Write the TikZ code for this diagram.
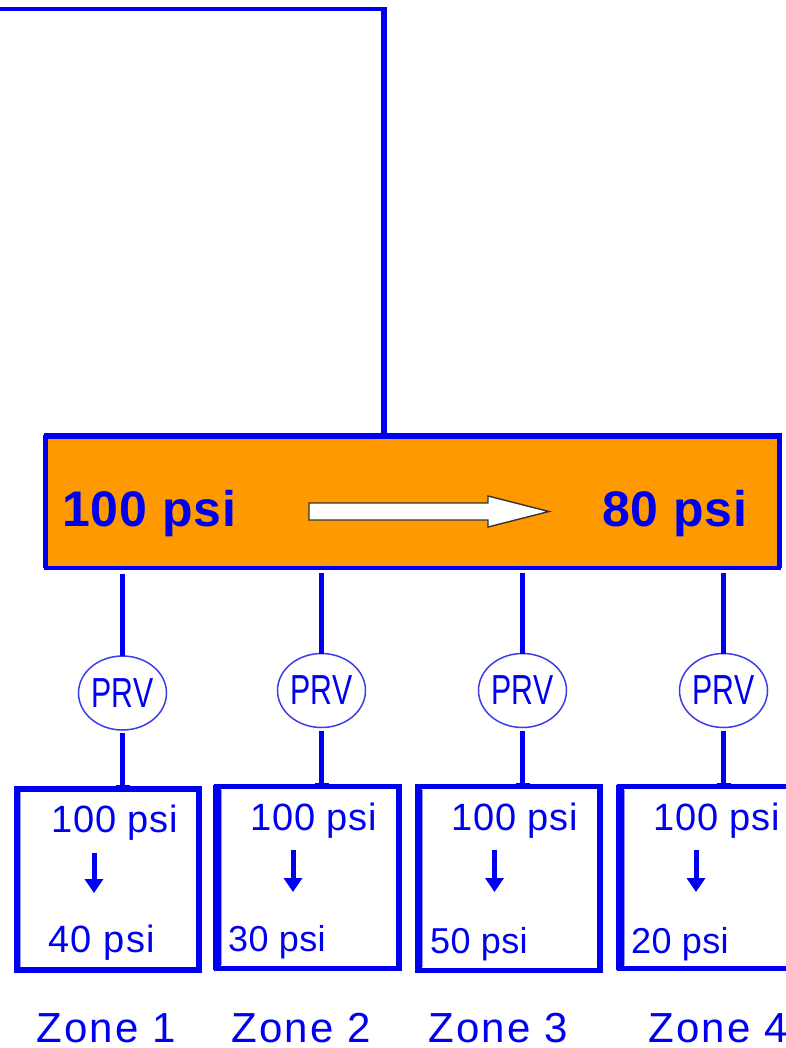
\documentclass[tikz,border=0pt]{standalone}
\usepackage{fontspec}
\setmainfont{Liberation Sans}
\usetikzlibrary{shapes.geometric,arrows.meta,calc}
\definecolor{pipeblue}{RGB}{0,0,240}
\definecolor{barorange}{RGB}{255,153,0}
\definecolor{ringblue}{RGB}{60,60,235}
\definecolor{paleblue}{RGB}{150,150,250}
\tikzset{
  x=1pt,y=-1pt,
  pipe/.style={draw=pipeblue,line width=5.5pt},
  barbox/.style={draw=pipeblue,fill=barorange,line width=3.5pt,minimum width=734pt,minimum height=133pt,inner sep=0,outer sep=0},
  prv/.style={ellipse,draw=ringblue,line width=1.5pt,fill=white,minimum width=88pt,minimum height=74pt,inner sep=0,outer sep=0,text=pipeblue},
  zonebox/.style={draw=pipeblue,line width=5.5pt,inner sep=0,outer sep=0,fill=white},
  big/.style={font=\fontsize{50}{50}\selectfont\bfseries\addfontfeature{LetterSpace=1.7},text=pipeblue,inner sep=0},
  psi/.style={font=\fontsize{38}{38}\selectfont\addfontfeature{LetterSpace=2.4},text=pipeblue,inner sep=0,anchor=base west},
  psilow/.style={font=\fontsize{36}{36}\selectfont\addfontfeature{LetterSpace=1},text=pipeblue,inner sep=0,anchor=base west},
  zonelabel/.style={font=\fontsize{42}{42}\selectfont\addfontfeature{LetterSpace=5.5},text=pipeblue,inner sep=0,anchor=base west},
  drop/.style={-{Triangle[width=18pt,length=14pt]},draw=pipeblue,line width=5pt},
}
\newcommand{\prvtext}{\scalebox{0.72}[1]{\fontsize{42}{42}\selectfont PRV}}
\begin{document}
\begin{tikzpicture}
\useasboundingbox (0,0) rectangle (786,1048);
% orange header
\node[barbox] (bar) at (412.5,501.5) {};
\coordinate (feedstart) at (0,9);
\coordinate (feedcorner) at (384,9);
\draw[draw=pipeblue,line width=3.5pt] (feedstart) -- (feedcorner);
\draw[pipe] (feedcorner |- 0,7.3) -- (feedcorner |- bar.north);
\draw[draw=pipeblue,line width=6pt] ($(bar.north west)+(-2,1)$) -- ($(bar.north east)+(2,1)$);
\draw[draw=pipeblue,line width=4.5pt] (bar.north west) -- (bar.south west);
\draw[draw=pipeblue,line width=4.5pt] (bar.north east) -- (bar.south east);
\node[big,anchor=base west] (p100) at (62,526) {100 psi};
\node[big,anchor=base west] (p80) at (602,526) {80 psi};
% white block arrow
\coordinate (wa1) at (309,503);
\coordinate (wa2) at (488,503);
\coordinate (wa3) at (488,496);
\coordinate (wa4) at (549,511.5);
\coordinate (wa5) at (488,527);
\coordinate (wa6) at (488,520);
\coordinate (wa7) at (309,520);
\draw[draw=black!80,fill=white,line width=1.4pt] (wa1)--(wa2)--(wa3)--(wa4)--(wa5)--(wa6)--(wa7)--cycle;
% zone boxes
\node[zonebox,minimum width=182pt,minimum height=181pt] (z1) at (108,879.5) {};
\node[zonebox,minimum width=182pt,minimum height=182pt] (z2) at (308,877.5) {};
\node[zonebox,minimum width=182pt,minimum height=184pt] (z3) at (509,878.5) {};
\node[zonebox,minimum width=186pt,minimum height=182pt] (z4) at (713,877.5) {};
\foreach \n/\xa/\ya/\yb/\wd in {1/17.5/787/972/5,2/217/785/970/8,3/418.5/785/972/7,4/620/785/970/8}{
  \coordinate (la\n) at (\xa,\ya);
  \coordinate (lb\n) at (\xa,\yb);
  \draw[draw=pipeblue,line width=\wd pt] (la\n)--(lb\n);
  \draw[draw=paleblue,line width=1.5pt] ($(la\n)+(0.5*\wd+0.7,5)$)--($(lb\n)+(0.5*\wd+0.7,-5)$);
}
% valves
\node[prv] (v1) at (122.5,693) {\prvtext};
\node[prv] (v2) at (321.5,690.5) {\prvtext};
\node[prv] (v3) at (522.5,690.5) {\prvtext};
\node[prv] (v4) at (723.5,690.5) {\prvtext};
\foreach \n/\gap in {1/6,2/5,3/5,4/5}{
  \draw[pipe] ($(v\n.north |- bar.south)+(0,\gap)$) -- (v\n.north);
  \draw[pipe] ($(v\n.south)+(0,3)$) -- (v\n.south |- z\n.north);
  \draw[draw=pipeblue,line width=1.5pt] ($(v\n.south |- z\n.north)+(-7,-3)$) -- ($(v\n.south |- z\n.north)+(7,-3)$);
}
% labels
\node[psi] (a1) at (51,832) {100 psi};
\node[psi] (a2) at (250,830) {100 psi};
\node[psi] (a3) at (451,830) {100 psi};
\node[psi] (a4) at (653,830) {100 psi};
\node[psi,font=\fontsize{38}{38}\selectfont\addfontfeature{LetterSpace=3.6}] (b1) at (48,952) {40 psi};
\node[psilow] (b2) at (228,951) {30 psi};
\node[psilow] (b3) at (430,953) {50 psi};
\node[psilow] (b4) at (631,953) {20 psi};
\foreach \n/\dx/\ya/\yb in {1/94/853/893,2/293/850/892,3/494.5/850/892,4/696/850/892}{
  \coordinate (ds\n) at (\dx,\ya);
  \coordinate (de\n) at (\dx,\yb);
  \draw[drop] (ds\n) -- (de\n);
}
\node[zonelabel] (n1) at (36,1042) {Zone 1};
\node[zonelabel] (n2) at (231,1042) {Zone 2};
\node[zonelabel] (n3) at (428,1042) {Zone 3};
\node[zonelabel] (n4) at (648,1042) {Zone 4};
\end{tikzpicture}
\end{document}
